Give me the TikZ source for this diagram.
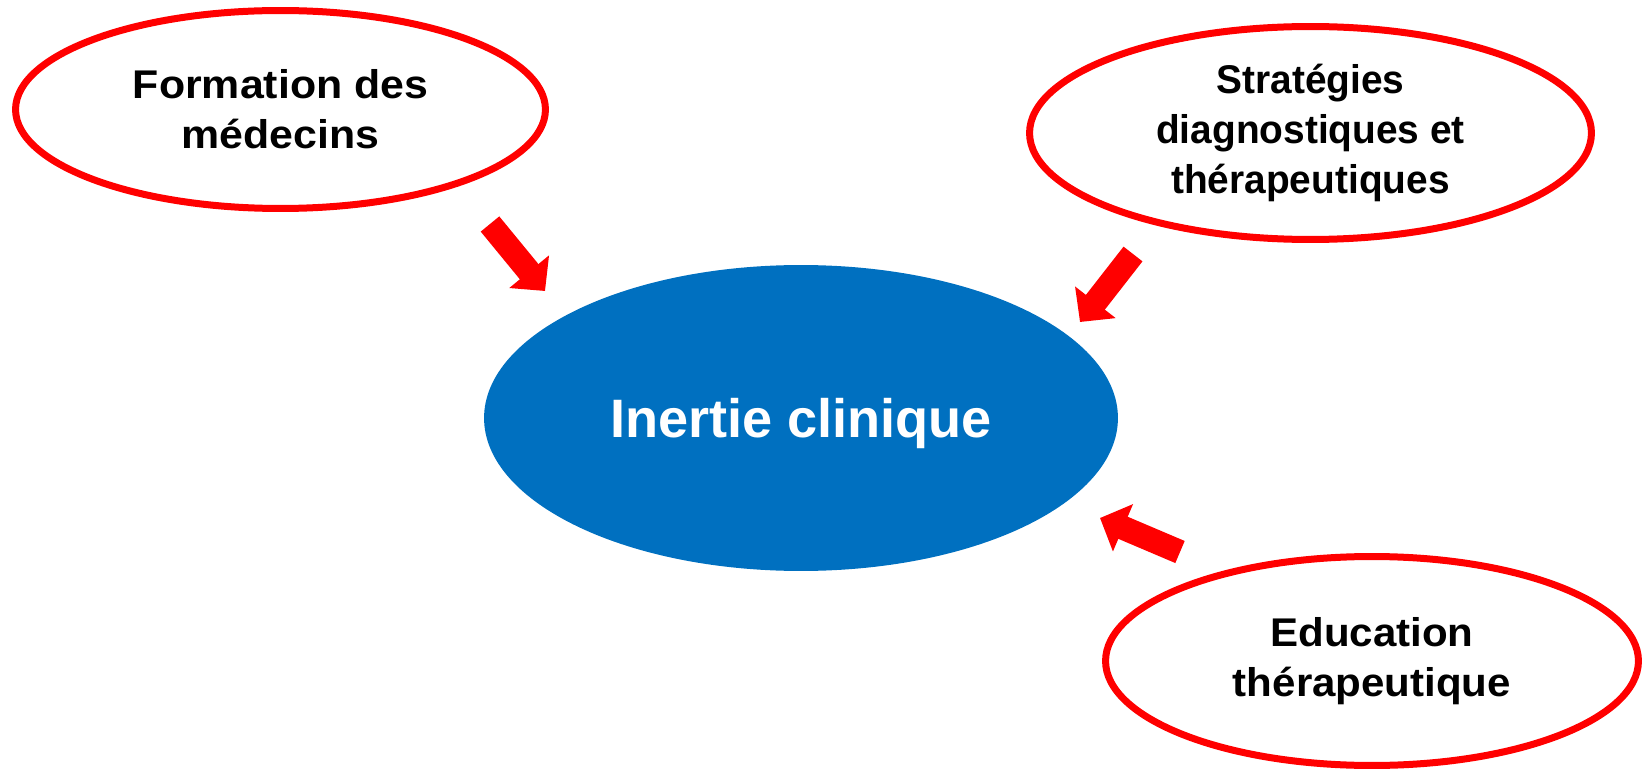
\documentclass[tikz,border=0pt]{standalone}
\usepackage{fontspec}
\setmainfont{Liberation Sans}
\newfontfamily\formationfont{Liberation Sans}[FakeStretch=1.07]
\newfontfamily\strategiesfont{Liberation Sans}[FakeStretch=0.97]
\newfontfamily\educationfont{Liberation Sans}[FakeStretch=1.05]
\newcommand\causetext{\fontsize{22.8}{28.5}\selectfont\bfseries}
\usetikzlibrary{shapes.geometric}
\usetikzlibrary{arrows.meta}
\definecolor{inertieblue}{HTML}{0070C0}

\begin{document}
\begin{tikzpicture}[x = 0.02cm, y = -0.02cm,
    cause/.style = {ellipse, draw=red, line width=0.14cm, inner sep=0pt,
                    align=center},
    pusharrow/.style = {red, line width=0.48cm,
                        -{Triangle[width=1cm, length=0.5cm]}}]
          \useasboundingbox (0,0) rectangle (1643,770);
          \node[ellipse, fill=inertieblue, inner sep=0pt, text depth=0pt,
                minimum width=12.68cm, minimum height=6.12cm,
                text=white, font=\fontsize{30.8}{36}\selectfont\bfseries]
                (inertie) at (801,418) {Inertie clinique};
          \node[cause, minimum width=10.6cm, minimum height=3.96cm,
                font=\formationfont\causetext]
                (formation) at (280.5,109.5) {Formation des\\médecins};
          \node[cause, minimum width=11.24cm, minimum height=4.26cm,
                font=\strategiesfont\causetext]
                (strategies) at (1310.5,133) {Stratégies\\diagnostiques et\\thérapeutiques};
          \node[cause, minimum width=10.66cm, minimum height=4.18cm,
                font=\educationfont\causetext]
                (education) at (1372,661) {Education\\thérapeutique};
          \coordinate (formation-tail) at (490,224);
          \coordinate (formation-tip) at (545,291);
          \coordinate (strategies-tail) at (1133,254);
          \coordinate (strategies-tip) at (1080,322);
          \coordinate (education-tail) at (1180,552);
          \coordinate (education-tip) at (1100,518);
          \draw[pusharrow] (formation-tail) -- (formation-tip);
          \draw[pusharrow] (strategies-tail) -- (strategies-tip);
          \draw[pusharrow] (education-tail) -- (education-tip);
        \end{tikzpicture}
\end{document}
